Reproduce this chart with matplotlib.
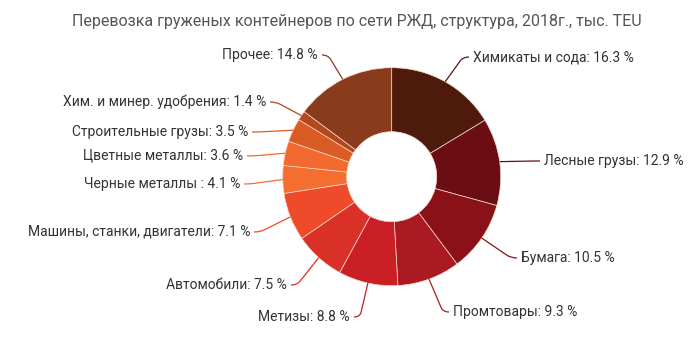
import numpy as np
import matplotlib
matplotlib.use("Agg")
import matplotlib.pyplot as plt
from matplotlib.path import Path
import matplotlib.patches as mpatches

plt.rcParams["font.family"] = ["Roboto", "DejaVu Sans"]

# data
CATEGORIES = ["Химикаты и сода", "Лесные грузы", "Бумага", "Промтовары",
              "Метизы", "Автомобили", "Машины, станки, двигатели",
              "Черные металлы ", "Цветные металлы", "Строительные грузы",
              "Хим. и минер. удобрения", "Прочее"]
SHARES = [16.3, 12.9, 10.5, 9.3, 8.8, 7.5, 7.1, 4.1, 3.6, 3.5, 1.4, 14.8]
COLORS = ["#4E1A0C", "#6B0E13", "#8A1118", "#AB1A22", "#C91F25", "#D93127",
          "#EF4B2A", "#F46F2F", "#F36A2E", "#DA5C24", "#B3481D", "#8A3B1C"]

# layout (pixels, y measured from top); label anchor x and centre y
W, H = 697, 343
CX, CY = 391.7, 176.7
R_OUT, R_IN = 109, 45
LABEL_POS = [(473, 57), (544, 161), (521, 258), (453, 312),
             (350, 317), (287, 285), (250, 232), (240, 184),
             (243, 156), (248, 132), (266, 102), (318, 55)]

fig = plt.figure(figsize=(W / 100, H / 100), dpi=100)
ax = fig.add_axes([0, 0, 1, 1])

wedges, _ = ax.pie(SHARES, colors=COLORS, startangle=90, counterclock=False,
                   radius=R_OUT, center=(CX, H - CY),
                   wedgeprops=dict(width=R_OUT - R_IN, edgecolor="#f6d9cc",
                                   linewidth=0.5))
ax.set_xlim(0, W)
ax.set_ylim(0, H)
ax.set_aspect("equal")
ax.axis("off")

for w, name, val, col, (lx, ly) in zip(wedges, CATEGORIES, SHARES, COLORS, LABEL_POS):
    mid = np.deg2rad((w.theta1 + w.theta2) / 2)
    x0 = CX + R_OUT * np.cos(mid)
    y0 = (H - CY) + R_OUT * np.sin(mid)
    ly_d = H - ly
    side = 1 if np.cos(mid) >= 0 else -1
    elbow = np.array([lx - side * 10, ly_d])
    start = np.array([x0, y0])
    d = elbow - start
    pre = elbow - d / np.linalg.norm(d) * 5
    end = (lx - side * 4, ly_d)
    path = Path([start, pre, elbow, end],
                [Path.MOVETO, Path.LINETO, Path.CURVE3, Path.CURVE3])
    ax.add_patch(mpatches.PathPatch(path, fill=False, edgecolor=col, lw=0.9))
    ax.text(lx, ly_d, f"{name}: {val} %", ha="left" if side > 0 else "right",
            va="center", fontsize=10, color="#333333")

ax.text(356.5, H - 21.5,
        "Перевозка груженых контейнеров по сети РЖД, структура, 2018г., тыс. TEU",
        ha="center", va="center", fontsize=11.5, color="#555555")

fig.savefig("out.png", dpi=100)
